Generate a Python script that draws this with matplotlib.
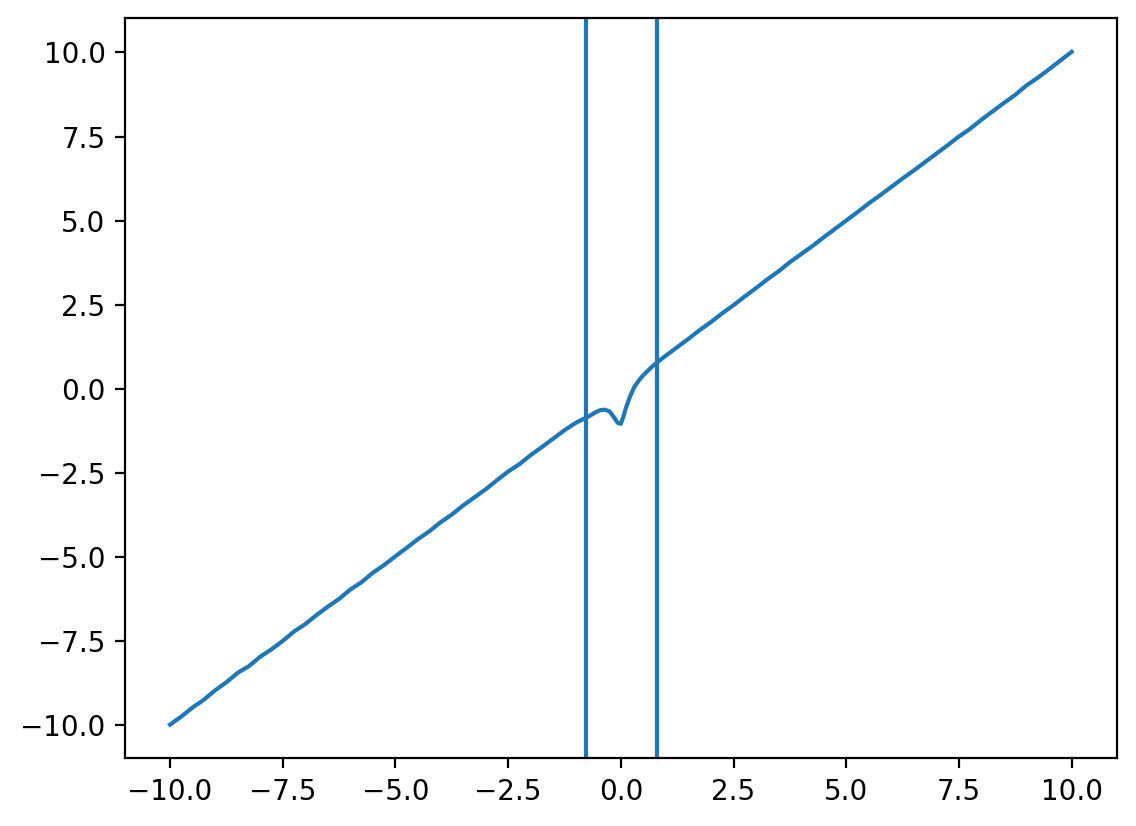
import matplotlib
matplotlib.use('Agg')
import matplotlib.pyplot as plt

# Curve: y ~ x with a wobble around zero
x_vals = [-10.0, -9.75, -9.5, -9.25, -9.0, -8.75, -8.5, -8.25, -8.0, -7.75,
          -7.5, -7.25, -7.0, -6.75, -6.5, -6.25, -6.0, -5.75, -5.5, -5.25,
          -5.0, -4.75, -4.5, -4.25, -4.0, -3.75, -3.5, -3.25, -3.0, -2.75,
          -2.5, -2.25, -2.0, -1.75, -1.5, -1.25,
          -1.0, -0.9, -0.77, -0.65, -0.55, -0.45, -0.35, -0.25, -0.15, -0.07,
          0.0, 0.05, 0.12, 0.2, 0.3, 0.4, 0.5, 0.6, 0.7, 0.8, 0.9, 1.0,
          1.25, 1.5, 1.75, 2.0, 2.25, 2.5, 2.75, 3.0, 3.25, 3.5, 3.75, 4.0,
          4.25, 4.5, 4.75, 5.0, 5.25, 5.5, 5.75, 6.0, 6.25, 6.5, 6.75, 7.0,
          7.25, 7.5, 7.75, 8.0, 8.25, 8.5, 8.75, 9.0, 9.25, 9.5, 9.75, 10.0]
y_vals = [-10.0, -9.76, -9.49, -9.26, -8.98, -8.74, -8.46, -8.26, -7.98, -7.76,
          -7.51, -7.23, -7.01, -6.74, -6.49, -6.26, -5.98, -5.76, -5.48, -5.25,
          -4.99, -4.74, -4.48, -4.25, -3.98, -3.75, -3.48, -3.24, -3.0, -2.73,
          -2.47, -2.25, -1.98, -1.74, -1.49, -1.24,
          -1.02, -0.95, -0.87, -0.78, -0.70, -0.64, -0.63, -0.68, -0.86, -1.02,
          -1.05, -0.86, -0.55, -0.25, 0.05, 0.24, 0.40, 0.53, 0.66, 0.77, 0.88, 0.98,
          1.23, 1.48, 1.74, 1.98, 2.24, 2.48, 2.74, 2.99, 3.25, 3.49, 3.76, 4.0,
          4.24, 4.5, 4.75, 5.0, 5.25, 5.51, 5.75, 6.0, 6.25, 6.49, 6.74, 6.99,
          7.24, 7.5, 7.73, 8.0, 8.25, 8.5, 8.74, 9.02, 9.25, 9.5, 9.76, 10.02]
vlines = [-0.77, 0.8]

fig = plt.figure(figsize=(5.68, 4.13), dpi=200)
ax = fig.add_axes([0.110, 0.082, 0.873, 0.896])
ax.plot(x_vals, y_vals, color='#1f77b4', linewidth=1.5)
for v in vlines:
    ax.axvline(v, color='#1f77b4', linewidth=1.5)

ax.set_xticks([-10.0, -7.5, -5.0, -2.5, 0.0, 2.5, 5.0, 7.5, 10.0])
ax.set_yticks([-10.0, -7.5, -5.0, -2.5, 0.0, 2.5, 5.0, 7.5, 10.0])

fig.savefig('out.png', dpi=200)
